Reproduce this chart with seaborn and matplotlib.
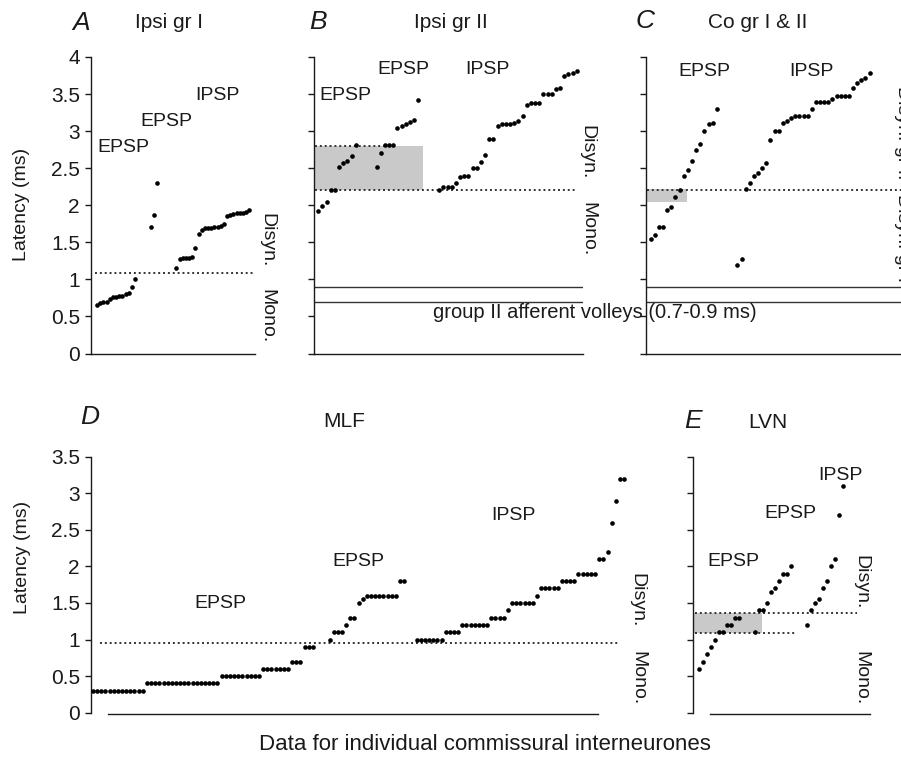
import matplotlib
matplotlib.use("Agg")
import matplotlib.pyplot as plt
import seaborn as sns
import numpy as np
import pandas as pd
from matplotlib.patches import Rectangle

# ---------------- data (latency, ms) ----------------
A_epsp1 = [0.66, 0.68, 0.70, 0.70, 0.74, 0.76, 0.76, 0.77, 0.78, 0.80, 0.82, 0.90, 1.00]
A_epsp2 = [1.70, 1.87, 2.30]
A_ipsp = [1.15, 1.27, 1.29, 1.29, 1.29, 1.30, 1.42, 1.61, 1.67, 1.69, 1.69, 1.69,
          1.70, 1.70, 1.72, 1.75, 1.85, 1.87, 1.88, 1.89, 1.90, 1.90, 1.91, 1.93]

B_epsp1 = [1.92, 1.99, 2.05, 2.21, 2.21, 2.52, 2.57, 2.60, 2.66, 2.81]
B_epsp2 = [2.52, 2.70, 2.81, 2.81, 2.81, 3.04, 3.07, 3.10, 3.12, 3.15, 3.42]
B_ipsp = [2.20, 2.25, 2.25, 2.25, 2.30, 2.38, 2.40, 2.40, 2.50, 2.50, 2.58, 2.68,
          2.90, 2.90, 3.07, 3.10, 3.10, 3.10, 3.11, 3.13, 3.20, 3.35, 3.38, 3.38,
          3.38, 3.50, 3.50, 3.50, 3.57, 3.58, 3.75, 3.77, 3.78, 3.81]

C_epsp = [1.54, 1.60, 1.70, 1.70, 1.93, 1.98, 2.11, 2.20, 2.40, 2.48, 2.60, 2.75,
          2.83, 3.00, 3.09, 3.11, 3.30]
C_ipsp = [1.20, 1.27, 2.22, 2.30, 2.40, 2.43, 2.50, 2.57, 2.88, 3.00, 3.00, 3.11,
          3.13, 3.18, 3.20, 3.20, 3.20, 3.20, 3.30, 3.39, 3.39, 3.39, 3.39, 3.43,
          3.47, 3.47, 3.47, 3.47, 3.58, 3.65, 3.69, 3.72, 3.79]

D_epsp1 = [0.3, 0.3, 0.3, 0.3, 0.3, 0.3, 0.3, 0.3, 0.3, 0.3, 0.3, 0.3, 0.3,
           0.4, 0.4, 0.4, 0.4, 0.4, 0.4, 0.4, 0.4, 0.4, 0.4, 0.4, 0.4, 0.4, 0.4,
           0.4, 0.4, 0.4, 0.4,
           0.5, 0.5, 0.5, 0.5, 0.5, 0.5, 0.5, 0.5, 0.5, 0.5,
           0.6, 0.6, 0.6, 0.6, 0.6, 0.6, 0.6,
           0.7, 0.7, 0.7,
           0.9, 0.9, 0.9]
D_epsp2 = [1.0, 1.1, 1.1, 1.1, 1.2, 1.3, 1.3, 1.5, 1.55, 1.6, 1.6, 1.6, 1.6, 1.6,
           1.6, 1.6, 1.6, 1.8, 1.8]
D_ipsp = [1.0, 1.0, 1.0, 1.0, 1.0, 1.0, 1.0,
          1.1, 1.1, 1.1, 1.1,
          1.2, 1.2, 1.2, 1.2, 1.2, 1.2, 1.2,
          1.3, 1.3, 1.3, 1.3,
          1.4,
          1.5, 1.5, 1.5, 1.5, 1.5, 1.5,
          1.6,
          1.7, 1.7, 1.7, 1.7, 1.7,
          1.8, 1.8, 1.8, 1.8,
          1.9, 1.9, 1.9, 1.9, 1.9,
          2.1, 2.1, 2.2, 2.6, 2.9, 3.2, 3.2]

E_epsp1 = [0.6, 0.7, 0.8, 0.9, 1.0, 1.1, 1.1, 1.2, 1.2, 1.3, 1.3]
E_epsp2 = [1.1, 1.4, 1.4, 1.5, 1.65, 1.7, 1.8, 1.9, 1.9, 2.0]
E_ipsp = [1.2, 1.4, 1.5, 1.55, 1.7, 1.8, 2.0, 2.1, 2.7, 3.1]

# empty neuron slots between groups
A_gaps = [4, 5]
B_gaps = [4, 4]
C_gaps = [4]
D_gaps = [3, 2]
E_gaps = [3, 3]

# border latencies (ms)
A_border = 1.08
B_borders = [2.2, 2.8]
C_border = 2.2
D_border = 0.95
E_borders = [1.09, 1.36]
C_band = [2.04, 2.22]
volleys = [0.7, 0.9]

ticks_4 = [0, 0.5, 1, 1.5, 2, 2.5, 3, 3.5, 4]
ticks_35 = [0, 0.5, 1, 1.5, 2, 2.5, 3, 3.5]
labels_4 = ['0', '0.5', '1', '1.5', '2', '2.5', '3', '3.5', '4']
labels_35 = ['0', '0.5', '1', '1.5', '2', '2.5', '3', '3.5']

# ---------------- figure ----------------
W, H = 901, 760
sns.set_theme(style="white")
plt.rcParams['font.family'] = ['Liberation Sans', 'DejaVu Sans']
INK = '#1a1a1a'
plt.rcParams['text.color'] = INK

fig = plt.figure(figsize=(W / 100, H / 100), dpi=100)


def axes_px(l, r, t, b):
    return fig.add_axes([l / W, 1 - b / H, (r - l) / W, (b - t) / H])


def frame(groups, gaps):
    xs, ys, start = [], [], 0
    for g, gap in zip(groups, [0] + gaps):
        start += gap
        xs.extend(range(start, start + len(g)))
        ys.extend(g)
        start += len(g)
    return pd.DataFrame({'neuron': xs, 'latency': ys})


def ftext(x, y, s, **kw):
    kw.setdefault('ha', 'center')
    kw.setdefault('va', 'center')
    kw.setdefault('fontsize', 14)
    fig.text(x / W, 1 - y / H, s, **kw)


def style(ax, xlim, ylim, ticks, labels=None):
    sns.scatterplot(data=ax._df, x='neuron', y='latency', ax=ax, color='black',
                    s=11, linewidth=0, legend=False, clip_on=False, zorder=3)
    ax.set_xlim(*xlim)
    ax.set_ylim(*ylim)
    ax.set_xticks([])
    ax.set_yticks(ticks)
    if labels is None:
        ax.set_yticklabels([])
    else:
        ax.set_yticklabels(labels, fontsize=15, color=INK)
    ax.tick_params(axis='y', direction='out', length=4, width=1, color=INK,
                   pad=4, left=True)
    ax.set_xlabel('')
    ax.set_ylabel('')
    for s in ['top', 'right']:
        ax.spines[s].set_visible(False)
    for s in ['left', 'bottom']:
        ax.spines[s].set_color(INK)
        ax.spines[s].set_linewidth(1.0)
    ax.patch.set_alpha(0)


def dotted(ax, x0, x1, y):
    ax.plot([x0, x1], [y, y], color='#333333', lw=1.4, ls=(0, (1, 1.5)),
            dash_capstyle='butt', zorder=2, clip_on=False)


# ---- A ----
axA = axes_px(91, 255, 57, 353.5)
axA._df = frame([A_epsp1, A_epsp2, A_ipsp], A_gaps)
style(axA, (-1.9, 49.8), (0, 4), ticks_4, labels_4)
dotted(axA, -0.6, 49.8, A_border)

# ---- B ----
axB = axes_px(314, 583, 57, 353.5)
axB._df = frame([B_epsp1, B_epsp2, B_ipsp], B_gaps)
style(axB, (-1.03, 63.5), (0, 4), ticks_4)
axB.add_patch(Rectangle((-1.03, B_borders[0]), 26.1, B_borders[1] - B_borders[0],
                        facecolor='#c9c9c9', edgecolor='none', zorder=1))
dotted(axB, -0.7, 62.0, B_borders[0])
dotted(axB, -0.7, 18.9, B_borders[1])
for v in volleys:
    axB.axhline(v, color='#333333', lw=1.0, zorder=2)

# ---- C ----
axC = axes_px(646, 901, 57, 353.5)
axC._df = frame([C_epsp, C_ipsp], C_gaps)
style(axC, (-1.14, 60.6), (0, 4), ticks_4)
axC.add_patch(Rectangle((-1.14, C_band[0]), 10.0, C_band[1] - C_band[0],
                        facecolor='#c9c9c9', edgecolor='none', zorder=1))
dotted(axC, -0.8, 60.6, C_border)
for v in volleys:
    axC.axhline(v, color='#333333', lw=1.0, zorder=2)

# ---- D ----
axD = axes_px(91, 632, 456.7, 712.7)
axD._df = frame([D_epsp1, D_epsp2, D_ipsp], D_gaps)
style(axD, (-0.48, 129.9), (0, 3.5), ticks_35, labels_35)
axD.spines['bottom'].set_bounds(3.6, 121.7)
axD.spines['bottom'].set_position(('outward', 1))
dotted(axD, 1.7, 126.5, D_border)

# ---- E ----
axE = axes_px(693, 870, 456.7, 712.7)
axE._df = frame([E_epsp1, E_epsp2, E_ipsp], E_gaps)
style(axE, (-1.58, 42.7), (0, 3.5), ticks_35)
axE.spines['bottom'].set_bounds(2.7, 42.7)
axE.spines['bottom'].set_position(('outward', 1))
axE.add_patch(Rectangle((-1.58, E_borders[0]), 17.3, E_borders[1] - E_borders[0],
                        facecolor='#c9c9c9', edgecolor='none', zorder=1))
dotted(axE, -1.1, 23.9, E_borders[0])
dotted(axE, -1.1, 39.4, E_borders[1])

# ---------------- texts ----------------
for x, y, s in [(81, 23, 'A'), (318, 22, 'B'), (645, 21, 'C'), (90, 417, 'D'), (693, 421, 'E')]:
    ftext(x, y, s, fontsize=19, style='italic')
for x, y, s in [(169, 23, 'Ipsi gr I'), (451, 22, 'Ipsi gr II'), (758, 22, 'Co gr I & II'),
                (344, 422, 'MLF'), (768, 423, 'LVN')]:
    ftext(x, y, s, fontsize=15)
for x, y, s in [(123, 147, 'EPSP'), (166, 121, 'EPSP'), (217, 96, 'IPSP'),
                (345, 96, 'EPSP'), (403, 69, 'EPSP'), (487, 69, 'IPSP'),
                (704, 71, 'EPSP'), (811, 71, 'IPSP'),
                (220, 603, 'EPSP'), (358, 561, 'EPSP'), (513, 515, 'IPSP'),
                (733, 561, 'EPSP'), (790, 514, 'EPSP'), (840, 476, 'IPSP')]:
    ftext(x, y, s, fontsize=14)
for x, y, s in [(267, 240, 'Disyn.'), (267, 316, 'Mono.'),
                (587, 152, 'Disyn.'), (588, 229, 'Mono.'),
                (637, 600, 'Disyn.'), (638, 678, 'Mono.'),
                (861, 582, 'Disyn.'), (861, 678, 'Mono.'),
                (903, 133, 'Disyn. gr II'), (903, 238, 'Disyn. gr I')]:
    ftext(x, y, s, fontsize=14, rotation=-90)
ftext(22, 204, 'Latency (ms)', fontsize=14, rotation=90)
ftext(23, 557, 'Latency (ms)', fontsize=14, rotation=90)
ftext(433, 313, 'group II afferent volleys (0.7-0.9 ms)', fontsize=14.5, ha='left')
ftext(485, 745, 'Data for individual commissural interneurones', fontsize=16)

fig.savefig('out.png', dpi=100)
